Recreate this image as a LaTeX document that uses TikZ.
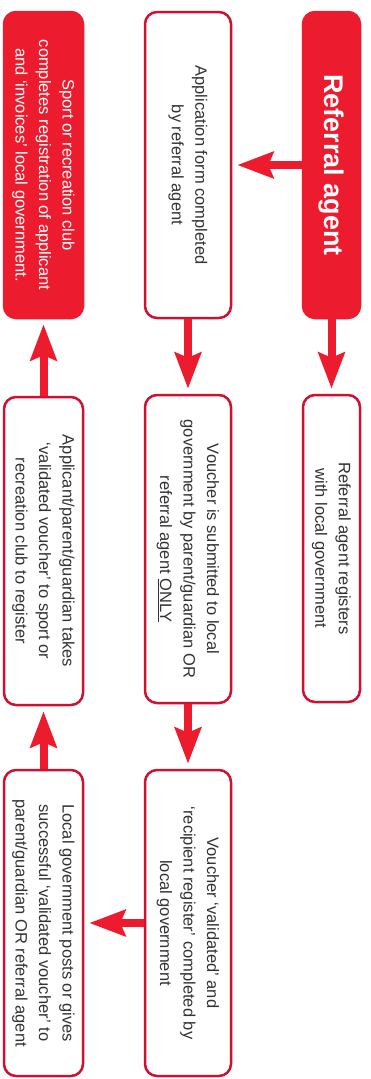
\documentclass[tikz,border=0pt]{standalone}
\usepackage{fontspec}
\setmainfont{Liberation Sans}
\usetikzlibrary{arrows.meta}
\definecolor{fillred}{RGB}{236,28,46}
\definecolor{linered}{RGB}{204,18,48}
\tikzset{
  box/.style={rounded corners=12pt, line width=2.5pt, rotate=-90, align=center,
    inner sep=2pt, font=\fontsize{16.5}{23.5}\selectfont},
  wbox/.style={box, draw=linered, fill=white, text=black!80},
  rbox/.style={box, draw=fillred, fill=fillred, text=white},
  arr/.style={draw=fillred, line width=8pt,
    -{Stealth[length=36pt,width=26pt,inset=5pt]}, shorten >=5pt}
}
\begin{document}
\begin{tikzpicture}[x=1pt,y=-1pt]
\useasboundingbox (0,0) rectangle (371,1079);
% left column
\node[rbox, minimum width=306pt, minimum height=79pt] (sport) at (43.5,165)
  {Sport or recreation club\\completes registration of applicant\\and ‘invoices’ local government.};
\node[wbox, minimum width=308pt, minimum height=79pt] (applicant) at (43.5,551)
  {Applicant/parent/guardian takes\\‘validated voucher’ to sport or\\recreation club to register};
\node[wbox, minimum width=306pt, minimum height=79pt] (lg) at (43.5,923)
  {Local government posts or gives\\successful ‘validated voucher’ to\\parent/guardian OR referral agent};
% middle column
\node[wbox, minimum width=306pt, minimum height=86pt] (app) at (188,165)
  {Application form completed\\by referral agent};
\node[wbox, minimum width=308pt, minimum height=86pt] (vs) at (188,549)
  {Voucher is submitted to local\\government by parent/guardian OR\\referral agent \underline{ONLY}};
\node[wbox, minimum width=306pt, minimum height=86pt] (vv) at (188,923)
  {Voucher ‘validated’ and\\‘recipient register’ completed by\\local government};
% right column
\node[rbox, minimum width=306pt, minimum height=57pt, font=\fontsize{27}{30}\selectfont\bfseries] (ra) at (331.5,165)
  {Referral agent};
\node[wbox, minimum width=307pt, minimum height=57pt] (rareg) at (331.5,548.5)
  {Referral agent registers\\with local government};
% connectors
\draw[arr] (ra) -- (rareg);
\draw[arr] (ra) -- (app);
\draw[arr] (app) -- (vs);
\draw[arr] (vs) -- (vv);
\draw[arr] (vv) -- (lg);
\draw[arr] (lg) -- (applicant);
\draw[arr] (applicant) -- (sport);
\end{tikzpicture}
\end{document}
